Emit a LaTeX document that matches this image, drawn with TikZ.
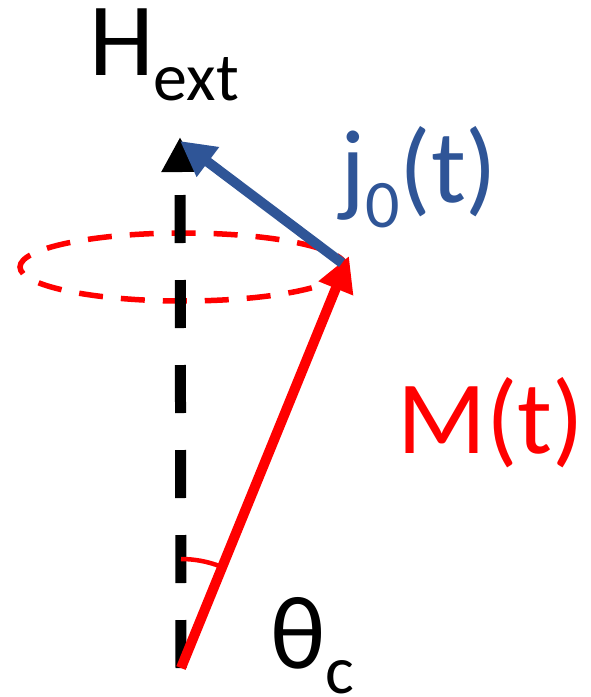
\documentclass[tikz,border=0pt]{standalone}
\usepackage{fontspec}
\setmainfont{Carlito}
\usepackage{tikz}
\usetikzlibrary{arrows.meta,calc}
\definecolor{jblue}{RGB}{47,85,151}
\definecolor{mred}{RGB}{255,0,0}
\newcommand{\biglbl}[2]{\fontsize{104}{104}\selectfont #1\raisebox{-25pt}{\fontsize{68}{68}\selectfont #2}}

\begin{document}
\begin{tikzpicture}[
  x=1pt,y=-1pt,
  >={Triangle[length=35pt,width=35pt]},
  axis/.style={line width=11pt,dash pattern=on 48pt off 37pt},
  vec/.style={line width=10pt},
  cone/.style={draw=mred,line width=5.5pt,dash pattern=on 24pt off 18pt},
  lbl/.style={inner sep=0pt,anchor=base west}
]
  \useasboundingbox (0,0) rectangle (591,697);
  \coordinate (O) at (181,668);
  \coordinate (Htip) at (180,137);
  \coordinate (Mtip) at (349,256);
  \coordinate (jtail) at (342,263);
  \coordinate (jtip) at (180,141);
  % precession cone
  \draw[cone] (183,267) ellipse[x radius=163,y radius=34];
  \draw[axis,->] (O) -- (Htip);
  \draw[vec,mred,->] (O) -- (Mtip);
  \draw[mred,line width=4.5pt] (O) ++(-90:109) arc[start angle=-90,end angle=-69,radius=109];
  \draw[vec,jblue,->] (jtail) -- (jtip);
  \node[lbl] (H) at (89,75) {\biglbl{H}{ext}};
  \node[lbl,text=jblue] (j) at (340,202) {\biglbl{j}{0}\fontsize{104}{104}\selectfont(t)};
  \node[lbl,text=mred] (M) at (397,453) {\fontsize{104}{104}\selectfont M(t)};
  \node[lbl] (th) at (270,668) {\biglbl{θ}{c}};
\end{tikzpicture}
\end{document}
